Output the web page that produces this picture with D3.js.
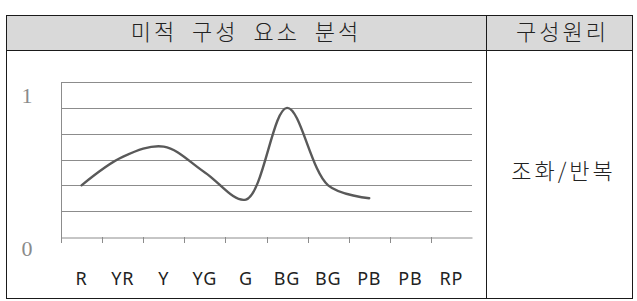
<!DOCTYPE html>
<html>
<head>
<meta charset="utf-8">
<script src="https://cdn.jsdelivr.net/npm/d3@7"></script>
<style>
  body { margin: 0; background: #fff; }
  svg { display: block; }
</style>
</head>
<body>
<div id="chart"></div>
<script>
// Data
const categories = ["R", "YR", "Y", "YG", "G", "BG", "BG ", "PB", "PB ", "RP"];
const labels = ["R", "YR", "Y", "YG", "G", "BG", "BG", "PB", "PB", "RP"];
const values = [0.40, 0.62, 0.70, 0.50, 0.29, 1.0, 0.40, 0.30];
const yTicks = [0, 0.2, 0.4, 0.6, 0.8, 1.0, 1.2];
const yLabels = [{ v: 0, text: "0", dy: 11 }, { v: 1, text: "1", dy: -13 }];
const headers = ["미적 구성 요소 분석", "구성원리"];
const principle = "조화/반복";

// Layout
const width = 637;
const height = 301;
const tableLeft = 6;
const tableRight = 633;
const tableTop = 15;
const tableBottom = 299;
const headerBottom = 50;
const divider = 486;

const plotLeft = 61;
const plotRight = 472;
const plotTop = 82;
const plotBottom = 237;

const svg = d3.select("#chart").append("svg")
    .attr("width", width)
    .attr("height", height)
    .attr("viewBox", [0, 0, width, height]);

// Table header background
svg.append("rect")
    .attr("x", tableLeft).attr("y", tableTop)
    .attr("width", tableRight - tableLeft).attr("height", headerBottom - tableTop)
    .attr("fill", "#d9d9d9");

// Scales
const x = d3.scaleBand()
    .domain(categories)
    .range([plotLeft, plotRight]);

const y = d3.scaleLinear()
    .domain([0, 1.2])
    .range([plotBottom, plotTop]);

// Gridlines
svg.append("g")
    .selectAll("line")
    .data(yTicks.slice(1))
    .join("line")
        .attr("x1", plotLeft)
        .attr("x2", plotRight)
        .attr("y1", d => Math.round(y(d)) + 0.5)
        .attr("y2", d => Math.round(y(d)) + 0.5)
        .attr("stroke", "#8c8c8c");

// Left axis line
svg.append("line")
    .attr("x1", plotLeft + 0.5).attr("x2", plotLeft + 0.5)
    .attr("y1", Math.round(y(1.2))).attr("y2", Math.round(y(0)) + 6)
    .attr("stroke", "#8c8c8c");

// Bottom axis
const xAxis = svg.append("g")
    .attr("transform", `translate(0,${Math.round(y(0)) + 0.5})`)
    .call(d3.axisBottom(x).tickSize(0).tickPadding(0).tickFormat((d, i) => labels[i]));
xAxis.select(".domain").attr("stroke", "#8c8c8c");
xAxis.selectAll("text")
    .attr("y", 41)
    .attr("dy", "0.35em")
    .attr("fill", "#222")
    .attr("font-family", "'Noto Sans', sans-serif")
    .attr("font-size", 18)
    .attr("letter-spacing", 0.8);

// Tick marks at band edges
svg.append("g")
    .selectAll("line")
    .data(categories)
    .join("line")
        .attr("x1", d => Math.round(x(d)) + 0.5)
        .attr("x2", d => Math.round(x(d)) + 0.5)
        .attr("y1", Math.round(y(0)))
        .attr("y2", Math.round(y(0)) + 6)
        .attr("stroke", "#8c8c8c");

// Y labels
svg.append("g")
    .selectAll("text")
    .data(yLabels)
    .join("text")
        .attr("x", 27)
        .attr("y", d => y(d.v) + d.dy)
        .attr("dy", "0.35em")
        .attr("text-anchor", "middle")
        .attr("fill", "#8a8a8a")
        .attr("font-family", "'Liberation Serif', serif")
        .attr("font-size", 22)
        .text(d => d.text);

// Smoothed line
const line = d3.line()
    .x((d, i) => x(categories[i]) + x.bandwidth() / 2)
    .y(d => y(d))
    .curve(d3.curveCatmullRom.alpha(0.5));

svg.append("path")
    .datum(values)
    .attr("fill", "none")
    .attr("stroke", "#595959")
    .attr("stroke-width", 2.4)
    .attr("stroke-linecap", "round")
    .attr("d", line);

// Table borders
const border = svg.append("g").attr("stroke", "#1a1a1a").attr("fill", "none");
border.append("rect")
    .attr("x", tableLeft + 0.5).attr("y", tableTop + 0.5)
    .attr("width", tableRight - tableLeft - 1).attr("height", tableBottom - tableTop - 1);
border.append("line")
    .attr("x1", tableLeft).attr("x2", tableRight)
    .attr("y1", headerBottom + 0.5).attr("y2", headerBottom + 0.5);
border.append("line")
    .attr("x1", divider + 0.5).attr("x2", divider + 0.5)
    .attr("y1", tableTop).attr("y2", tableBottom);

// Header text
svg.append("g")
    .selectAll("text")
    .data(headers)
    .join("text")
        .attr("x", (d, i) => i === 0 ? (tableLeft + divider) / 2 : (divider + tableRight) / 2 + 3)
        .attr("y", (tableTop + headerBottom) / 2)
        .attr("dy", "0.36em")
        .attr("text-anchor", "middle")
        .attr("fill", "#222")
        .attr("font-family", "'Noto Sans CJK KR', sans-serif")
        .attr("font-weight", 300)
        .attr("font-size", 22)
        .attr("letter-spacing", 3)
        .attr("word-spacing", (d, i) => i === 0 ? 7 : 0)
        .text(d => d);

svg.append("text")
    .attr("x", (divider + tableRight) / 2 + 4)
    .attr("y", 171)
    .attr("dy", "0.36em")
    .attr("text-anchor", "middle")
    .attr("fill", "#222")
    .attr("font-family", "'Noto Sans CJK KR', sans-serif")
    .attr("font-weight", 300)
    .attr("font-size", 22)
    .attr("letter-spacing", 3)
    .text(principle);
</script>
</body>
</html>
